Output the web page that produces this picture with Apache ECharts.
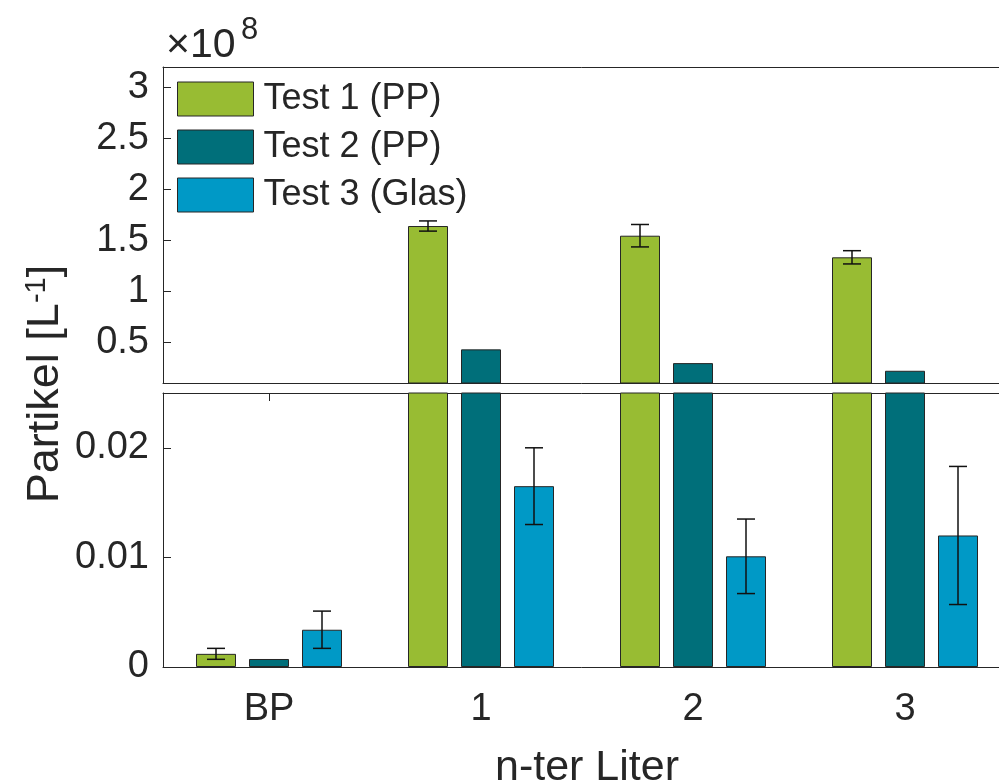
<!DOCTYPE html>
<html lang="de">
<head>
	<meta charset="UTF-8">
	<title>Partikel</title>
	<style type="text/css">
	html, body {
		margin: 0;
		padding: 0;
		background: #fff;
	}
	#chart {
		width: 999px;
		height: 783px;
	}
	</style>
</head>
<body>
	<div id="chart"></div>

	<script type="text/javascript" src="https://cdn.jsdelivr.net/npm/echarts@6/dist/echarts.min.js"></script>
	<script type="text/javascript">

		// Daten (Einheit 10^8 L^-1)
		var categories = ['BP', '1', '2', '3'];
		var seriesNames = ['Test 1 (PP)', 'Test 2 (PP)', 'Test 3 (Glas)'];
		var test1 = [0.0012, 1.64, 1.545, 1.333];
		var test2 = [0.00073, 0.43, 0.295, 0.22];
		var test3 = [0.0034, 0.0165, 0.0101, 0.012];
		var err1 = [0.0005, 0.05, 0.11, 0.065];
		var err2 = [0, 0, 0, 0];
		var err3 = [0.0017, 0.0035, 0.0034, 0.0063];
		var topTicks = [0.5, 1, 1.5, 2, 2.5, 3];
		var bottomTicks = [0, 0.01, 0.02];
		var topRange = [0.1, 3.2];
		var bottomRange = [0, 0.025];

		var colors = ['#98bc33', '#006f7a', '#0099c6'];
		var values = [test1, test2, test3];
		var errors = [err1, err2, err3];

		var TXT = '#262626';
		var FONT = 'Liberation Sans, Arial, sans-serif';
		var BAR_W = 40;
		var BAR_GAP = 13;
		var CAP = 9;

		var chart = echarts.init(document.getElementById('chart'));

		// Fehlerbalken nur zeichnen, wenn sie komplett im Bereich liegen
		function errorSeries (idx, g, range) {
			var data = [];
			values[idx].forEach(function (v, i) {
				var e = errors[idx][i];
				if (e > 0 && v - e >= range[0] && v + e <= range[1]) {
					data.push([i, v, e]);
				}
			});
			return {
				type: 'custom',
				xAxisIndex: g,
				yAxisIndex: g,
				z: 10,
				silent: true,
				data: data,
				renderItem: function (params, api) {
					var x = api.coord([api.value(0), api.value(1)])[0] + (idx - 1) * (BAR_W + BAR_GAP);
					var hi = api.coord([api.value(0), api.value(1) + api.value(2)])[1];
					var lo = api.coord([api.value(0), api.value(1) - api.value(2)])[1];
					var st = { stroke: '#111', lineWidth: 1.5 };
					return {
						type: 'group',
						children: [
							{ type: 'line', shape: { x1: x, y1: hi, x2: x, y2: lo }, style: st },
							{ type: 'line', shape: { x1: x - CAP, y1: hi, x2: x + CAP, y2: hi }, style: st },
							{ type: 'line', shape: { x1: x - CAP, y1: lo, x2: x + CAP, y2: lo }, style: st }
						]
					};
				}
			};
		}

		function barSeries (idx, g) {
			return {
				name: seriesNames[idx],
				type: 'bar',
				xAxisIndex: g,
				yAxisIndex: g,
				barWidth: BAR_W,
				barGap: (BAR_GAP / BAR_W * 100) + '%',
				clip: true,
				itemStyle: {
					color: colors[idx],
					borderColor: TXT,
					borderWidth: 1
				},
				data: values[idx]
			};
		}

		var series = [];
		[0, 1].forEach(function (g) {
			[0, 1, 2].forEach(function (i) {
				series.push(barSeries(i, g));
			});
		});
		[0, 1, 2].forEach(function (i) {
			series.push(errorSeries(i, 0, topRange));
			series.push(errorSeries(i, 1, bottomRange));
		});

		var line = { show: true, onZero: false, lineStyle: { color: TXT, width: 1 } };
		var yLabel = {
			color: TXT,
			fontFamily: FONT,
			fontSize: 38,
			margin: 14
		};
		var yTick = {
			show: true,
			inside: true,
			length: 8,
			lineStyle: { color: TXT }
		};
		var xTick = { show: true, inside: true, alignWithLabel: true, length: 8, lineStyle: { color: TXT } };

		var option = {
			animation: false,
			color: colors,
			textStyle: { fontFamily: FONT },
			grid: [
				{ left: 163, top: 67, width: 848, height: 316, outerBoundsMode: 'none', containLabel: false },
				{ left: 163, top: 393, width: 848, height: 274, outerBoundsMode: 'none', containLabel: false }
			],
			legend: {
				orient: 'vertical',
				left: 177,
				top: 81,
				padding: 0,
				itemWidth: 76,
				itemHeight: 34,
				itemGap: 12,
				icon: 'rect',
				data: seriesNames,
				itemStyle: { borderColor: TXT, borderWidth: 1 },
				textStyle: { color: TXT, fontFamily: FONT, fontSize: 36, padding: [0, 0, 0, 5] }
			},
			xAxis: [
				// oberes Panel, unten
				{
					type: 'category', gridIndex: 0, data: categories, position: 'bottom',
					axisLine: line, axisTick: { show: false }, axisLabel: { show: false }
				},
				// unteres Panel, unten
				{
					type: 'category', gridIndex: 1, data: categories, position: 'bottom',
					axisLine: line,
					axisTick: xTick,
					axisLabel: { color: TXT, fontFamily: FONT, fontSize: 38, margin: 24 },
					name: 'n-ter Liter',
					nameLocation: 'middle',
					nameGap: 80,
					nameTextStyle: { color: TXT, fontFamily: FONT, fontSize: 43 }
				},
				// oberes Panel, oben
				{
					type: 'category', gridIndex: 0, data: categories, position: 'top',
					axisLine: line, axisTick: { show: false }, axisLabel: { show: false }
				},
				// unteres Panel, oben
				{
					type: 'category', gridIndex: 1, data: categories, position: 'top',
					axisLine: line,
					axisTick: xTick,
					axisLabel: { show: false }
				}
			],
			yAxis: [
				{
					type: 'value', gridIndex: 0, min: topRange[0], max: topRange[1],
					splitLine: { show: false }, axisLine: line,
					axisTick: Object.assign({ customValues: topTicks }, yTick),
					axisLabel: Object.assign({ customValues: topTicks }, yLabel)
				},
				{
					type: 'value', gridIndex: 1, min: bottomRange[0], max: bottomRange[1],
					splitLine: { show: false }, axisLine: line,
					axisTick: Object.assign({ customValues: bottomTicks }, yTick),
					axisLabel: Object.assign({ customValues: bottomTicks }, yLabel)
				}
			],
			graphic: [
				{
					type: 'text', x: 166, y: 66,
					style: { text: '\u00d710', fill: TXT, font: '41px ' + FONT, verticalAlign: 'bottom' }
				},
				{
					type: 'text', x: 241, y: 46,
					style: { text: '8', fill: TXT, font: '31px ' + FONT, verticalAlign: 'bottom' }
				},
				{
					type: 'text', x: 46, y: 384, rotation: Math.PI / 2,
					style: {
						text: '{n|Partikel [L}{s|-1}{n|]}',
						align: 'center',
						verticalAlign: 'middle',
						fill: TXT,
						rich: {
							n: { fontSize: 45, fontFamily: FONT, color: TXT, lineHeight: 48 },
							s: { fontSize: 29, fontFamily: FONT, color: TXT, verticalAlign: 'top' }
						}
					}
				}
			],
			series: series
		};

		chart.setOption(option);

	</script>
</body>
</html>
